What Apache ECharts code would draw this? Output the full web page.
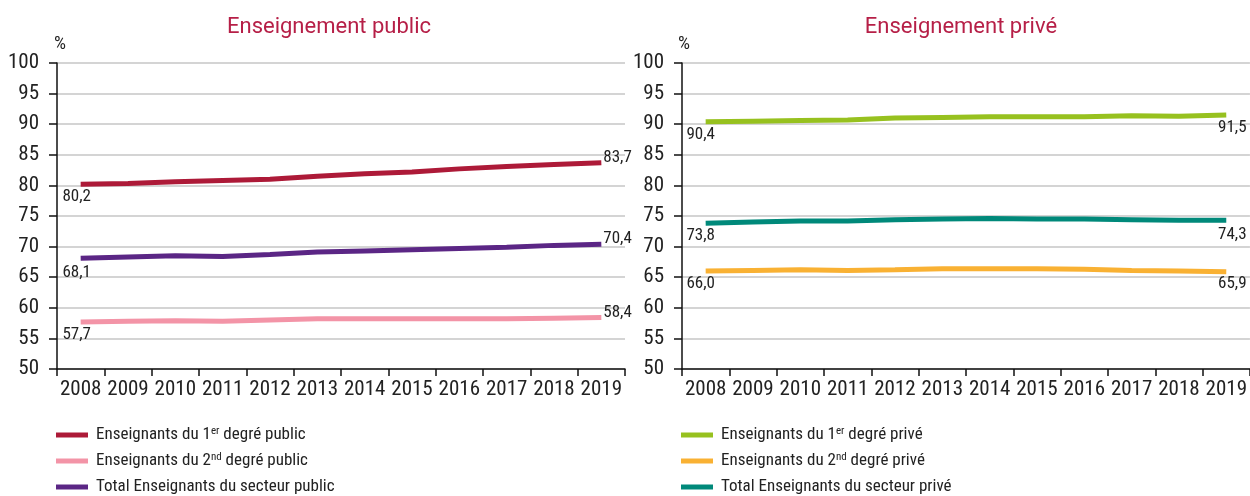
<!DOCTYPE html>
<html><head><meta charset="utf-8">
<script src="https://cdn.jsdelivr.net/npm/echarts@6/dist/echarts.min.js"></script>
<style>html,body{margin:0;padding:0;background:#fff}#c{width:1250px;height:496px}</style>
</head><body><div id="c"></div>
<script>
const years = ['2008','2009','2010','2011','2012','2013','2014','2015','2016','2017','2018','2019'];
const yTicks = [50,55,60,65,70,75,80,85,90,95,100];
const titlePublic = 'Enseignement public';
const titlePrive = 'Enseignement privé';
const pub1 = [80.2,80.3,80.6,80.8,81.0,81.5,81.9,82.2,82.7,83.1,83.4,83.7];
const pub2 = [57.7,57.8,57.9,57.8,58.0,58.2,58.2,58.2,58.2,58.2,58.3,58.4];
const pubT = [68.1,68.3,68.5,68.4,68.7,69.1,69.3,69.5,69.7,69.9,70.2,70.4];
const pri1 = [90.4,90.5,90.6,90.7,91.0,91.1,91.2,91.2,91.2,91.4,91.3,91.5];
const pri2 = [66.0,66.1,66.2,66.1,66.2,66.4,66.4,66.4,66.3,66.1,66.0,65.9];
const priT = [73.8,74.0,74.2,74.2,74.4,74.5,74.6,74.5,74.5,74.4,74.3,74.3];
const namesPub = ['Enseignants du 1er degré public','Enseignants du 2nd degré public','Total Enseignants du secteur public'];
const namesPri = ['Enseignants du 1er degré privé','Enseignants du 2nd degré privé','Total Enseignants du secteur privé'];
const colPub = ['#ad1a38','#f394a7','#5b2685'];
const colPri = ['#97c11f','#f9b133','#00897a'];

const FONT = '"Roboto Condensed","DejaVu Sans Condensed",sans-serif';
const fmt = v => v.toFixed(1).replace('.', ',');

function mkData(arr, endPos, endOffset, startOffset) {
  return arr.map((v, i) => {
    if (i === 0) return {value: v, label: {show: true, position: 'bottom', offset: startOffset, formatter: p => fmt(p.value)}};
    if (i === arr.length - 1) return {value: v, label: {show: true, position: endPos, offset: endOffset, formatter: p => fmt(p.value)}};
    return v;
  });
}

const chart = echarts.init(document.getElementById('c'), null, {renderer: 'canvas'});
const grids = [
  {left: 57, top: 63, width: 568, height: 306},
  {left: 682, top: 63, width: 568, height: 306}
];
function xAx(g) {
  return {type: 'category', gridIndex: g, data: years, boundaryGap: true,
    axisLine: {lineStyle: {color: '#111', width: 1.5}},
    axisTick: {show: true, length: 7, lineStyle: {color: '#111', width: 1.5}},
    axisLabel: {color: '#222', fontFamily: FONT, fontSize: 21, margin: 10, interval: 0}};
}
function yAx(g) {
  return {type: 'value', gridIndex: g, min: 50, max: 100, interval: 5,
    axisLine: {show: true, lineStyle: {color: '#111', width: 1.5}},
    axisTick: {show: true, length: 8, lineStyle: {color: '#111', width: 1.5}},
    splitLine: {lineStyle: {color: '#c6c6c6', width: 1.5}},
    axisLabel: {color: '#222', fontFamily: FONT, fontSize: 21, margin: 18,
      formatter: v => yTicks.includes(v) ? String(v) : ''}};
}
function ser(name, data, color, g, endPos, endOffset, startOffset) {
  return {type: 'line', name, xAxisIndex: g, yAxisIndex: g,
    data: mkData(data, endPos, endOffset, startOffset),
    smooth: false, symbol: 'circle', symbolSize: 0, showSymbol: true,
    lineStyle: {color, width: 5}, itemStyle: {color},
    label: {color: '#222', fontFamily: FONT, fontSize: 17},
    emphasis: {disabled: true}, animation: false};
}
const supFmt = n => n.replace('1er', '1{sup|er}').replace('2nd', '2{sup|nd}');
const legendText = {color: '#222', fontFamily: FONT, fontSize: 17, lineHeight: 20, padding: [0, 0, 0, 3],
  rich: {sup: {fontFamily: FONT, fontSize: 11, color: '#222', padding: [0, 0, 8, 0]}}};
function leg(name, color, left, top) {
  return {orient: 'horizontal', left, top, padding: 0, itemGap: 0, itemWidth: 32, itemHeight: 5,
    icon: 'rect', selectedMode: false, data: [{name, itemStyle: {color}}],
    formatter: supFmt, textStyle: legendText};
}
const rowCenters = [435, 461, 487];

chart.setOption({
  animation: false,
  backgroundColor: '#fff',
  title: [
    {text: titlePublic, left: 324, top: 11, textAlign: 'center', textStyle: {color: '#b61f47', fontFamily: 'Roboto, sans-serif', fontWeight: 'normal', fontSize: 22}},
    {text: titlePrive, left: 956, top: 11, textAlign: 'center', textStyle: {color: '#b61f47', fontFamily: 'Roboto, sans-serif', fontWeight: 'normal', fontSize: 22}},
    {text: '%', left: 49, top: 30, textStyle: {color: '#222', fontFamily: FONT, fontWeight: 'normal', fontSize: 19}},
    {text: '%', left: 673, top: 30, textStyle: {color: '#222', fontFamily: FONT, fontWeight: 'normal', fontSize: 19}}
  ],
  grid: grids,
  xAxis: [xAx(0), xAx(1)],
  yAxis: [yAx(0), yAx(1)],
  legend: [
    ...namesPub.map((n, i) => leg(n, colPub[i], 56, rowCenters[i] - 10)),
    ...namesPri.map((n, i) => leg(n, colPri[i], 681, rowCenters[i] - 10))
  ],
  series: [
    ser(namesPub[0], pub1, colPub[0], 0, 'right', [-3, -5], [-4, -1]),
    ser(namesPub[1], pub2, colPub[1], 0, 'right', [-3, -5], [-4, -1]),
    ser(namesPub[2], pubT, colPub[2], 0, 'right', [-3, -5], [-4, 1]),
    ser(namesPri[0], pri1, colPri[0], 1, 'bottom', [6, -1], [-5, -1]),
    ser(namesPri[1], pri2, colPri[1], 1, 'bottom', [6, -1], [-5, -1]),
    ser(namesPri[2], priT, colPri[2], 1, 'bottom', [6, 1], [-5, -1])
  ]
});
</script>
</body></html>
